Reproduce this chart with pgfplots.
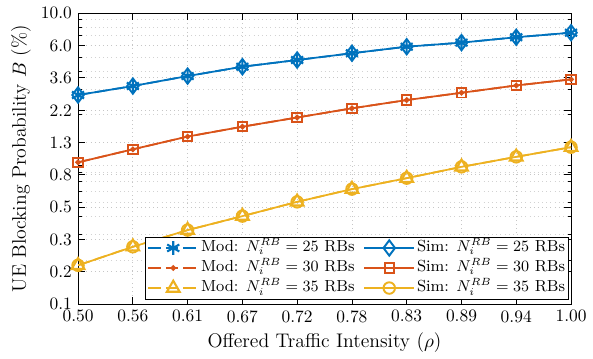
\documentclass[border=0pt]{standalone}
\usepackage{pgfplots}
\pgfplotsset{compat=1.18}
\definecolor{mblue}{rgb}{0,0.447,0.741}
\definecolor{mred}{rgb}{0.85,0.325,0.098}
\definecolor{myel}{rgb}{0.929,0.694,0.125}
\begin{document}
\begin{tikzpicture}
\begin{axis}[
  scale only axis,
  width=283pt, height=167pt,
  xmin=0.5, xmax=1.0,
  ymode=log, ymin=0.1, ymax=10,
  xtick={0.5,0.5556,0.6111,0.6667,0.7222,0.7778,0.8333,0.8889,0.9444,1.0},
  xticklabels={0.50,0.56,0.61,0.67,0.72,0.78,0.83,0.89,0.94,1.00},
  minor x tick num=4,
  ytick={0.1,0.16681,0.27826,0.46416,0.77426,1.29155,2.15443,3.59381,5.99484,10},
  yticklabels={0.1,0.2,0.3,0.5,0.8,1.3,2.2,3.6,6.0,10.0},
  minor ytick={0.2,0.3,0.4,0.5,0.6,0.7,0.8,0.9,2,3,4,5,6,7,8,9},
  tick align=inside,
  major tick length=4pt,
  minor tick length=2pt,
  xminorgrids, grid=both,
  major grid style={gray!45, dotted, line width=0.5pt},
  minor grid style={gray!35, dotted, line width=0.5pt},
  axis line style={black, line width=0.6pt},
  every tick/.style={black, line width=0.5pt},
  xlabel={Offered Traffic Intensity ($\rho$)},
  ylabel={UE Blocking Probability $B$ (\%)},
  label style={font=\fontsize{11.3}{13}\selectfont},
  xlabel style={yshift=1pt},
  ylabel style={yshift=-1pt},
  legend columns=3,
  transpose legend,
  legend cell align=left,
  legend style={at={(0.9965,0.0165)}, anchor=south east, draw=black, fill=white, line width=0.5pt,
    font=\fontsize{9.2}{11}\selectfont, row sep=1pt, inner xsep=1pt, inner ysep=1pt,
    nodes={inner xsep=1.2pt, inner ysep=0.5pt, text height=7pt, text depth=2.5pt},
    /tikz/every even column/.append style={column sep=4pt}},
  legend image code/.code={\draw[mark repeat=2,mark phase=2] plot coordinates {(0cm,0cm) (0.5cm,0cm) (1cm,0cm)};},
]
% Model
\addplot[mblue, line width=1pt, dash pattern=on 7pt off 3pt, mark=asterisk, mark size=4pt, mark options={solid, line width=1.2pt}]
  coordinates {(0.5,2.74)(0.5556,3.16)(0.6111,3.70)(0.6667,4.29)(0.7222,4.77)(0.7778,5.31)(0.8333,5.89)(0.8889,6.28)(0.9444,6.84)(1.0,7.35)};
\addlegendentry{Mod: $N_i^{RB} = 25$ RBs}
\addplot[mred, line width=1pt, dash pattern=on 7pt off 3pt, mark=*, mark size=1.1pt, mark options={solid}]
  coordinates {(0.5,0.944)(0.5556,1.16)(0.6111,1.42)(0.6667,1.66)(0.7222,1.92)(0.7778,2.22)(0.8333,2.53)(0.8889,2.84)(0.9444,3.19)(1.0,3.51)};
\addlegendentry{Mod: $N_i^{RB} = 30$ RBs}
\addplot[myel, line width=1pt, dash pattern=on 7pt off 3pt, mark=triangle, mark size=4.2pt, mark options={solid, line width=1.2pt}]
  coordinates {(0.5,0.185)(0.5556,0.248)(0.6111,0.323)(0.6667,0.403)(0.7222,0.505)(0.7778,0.618)(0.8333,0.735)(0.8889,0.879)(0.9444,1.03)(1.0,1.20)};
\addlegendentry{Mod: $N_i^{RB} = 35$ RBs}
% Simulation
\addplot[mblue, line width=1pt, mark=diamond, mark size=4.4pt, mark options={solid, line width=1.1pt}]
  coordinates {(0.5,2.74)(0.5556,3.16)(0.6111,3.70)(0.6667,4.29)(0.7222,4.77)(0.7778,5.31)(0.8333,5.89)(0.8889,6.28)(0.9444,6.84)(1.0,7.35)};
\addlegendentry{Sim: $N_i^{RB} = 25$ RBs}
\addplot[mred, line width=1pt, mark=square, mark size=2.7pt, mark options={solid, line width=1.1pt}]
  coordinates {(0.5,0.944)(0.5556,1.16)(0.6111,1.42)(0.6667,1.66)(0.7222,1.92)(0.7778,2.22)(0.8333,2.53)(0.8889,2.84)(0.9444,3.19)(1.0,3.51)};
\addlegendentry{Sim: $N_i^{RB} = 30$ RBs}
\addplot[myel, line width=1pt, mark=o, mark size=3.3pt, mark options={solid, line width=1.1pt}]
  coordinates {(0.5,0.185)(0.5556,0.248)(0.6111,0.323)(0.6667,0.403)(0.7222,0.505)(0.7778,0.618)(0.8333,0.735)(0.8889,0.879)(0.9444,1.03)(1.0,1.20)};
\addlegendentry{Sim: $N_i^{RB} = 35$ RBs}
\end{axis}
\path (current axis.south west) ++(-44.8pt,-29.9pt) coordinate (bbsw);
\path (current axis.north east) ++(12.6pt,7.6pt) coordinate (bbne);
\useasboundingbox (bbsw) rectangle (bbne);
\end{tikzpicture}
\end{document}
